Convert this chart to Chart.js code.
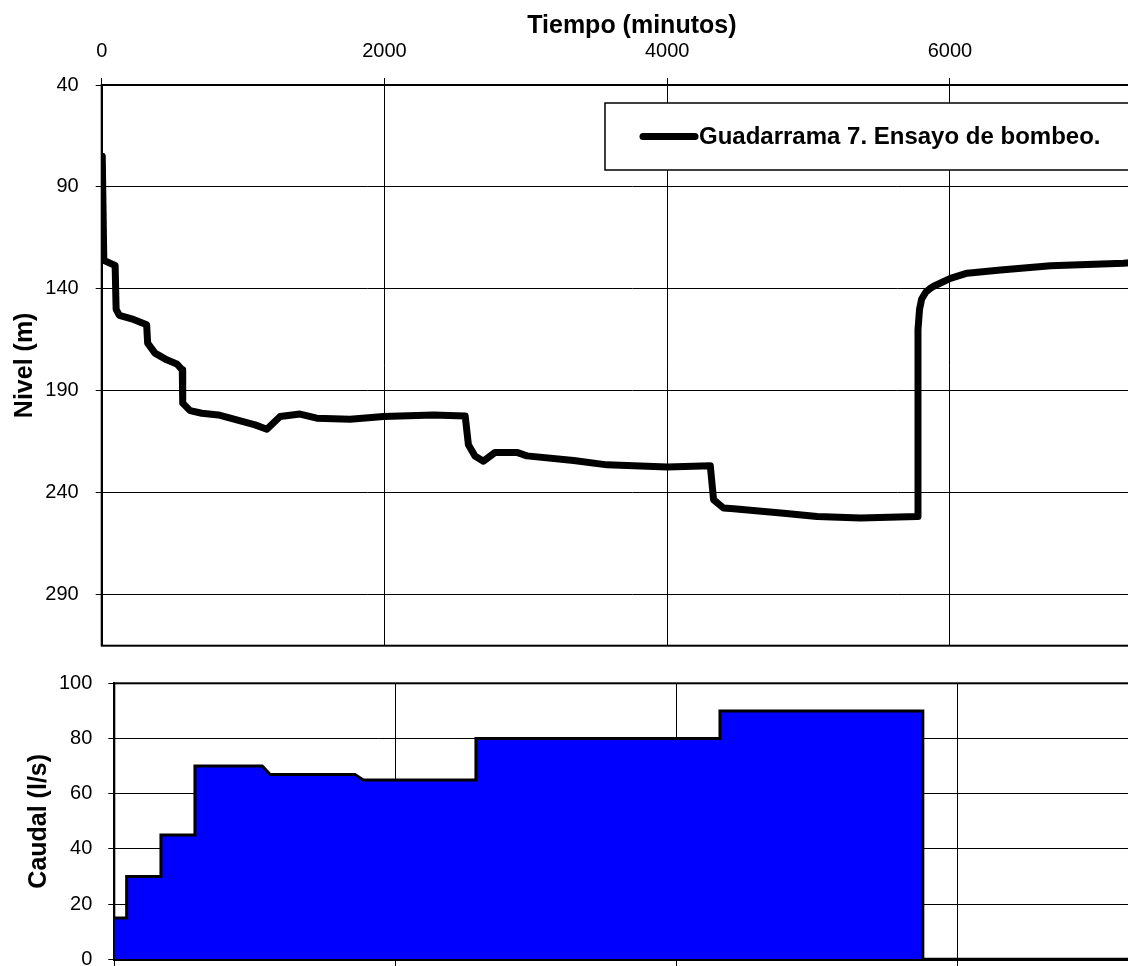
<!DOCTYPE html>
<html lang="es">
<head>
<meta charset="utf-8">
<title>Guadarrama 7. Ensayo de bombeo</title>
<script src="https://cdn.jsdelivr.net/npm/chart.js@4.4.1/dist/chart.umd.min.js"></script>
<style>
    html, body { margin: 0; padding: 0; background: #fff; overflow: hidden; width: 1128px; height: 966px; }
    #nivelWrap { position: absolute; left: 0; top: 0; width: 1200px; height: 660px; }
    #caudalWrap { position: absolute; left: 0; top: 660px; width: 1200px; height: 306px; }
</style>
</head>
<body>
<div id="nivelWrap"><canvas id="nivelChart" width="1200" height="660"></canvas></div>
<div id="caudalWrap"><canvas id="caudalChart" width="1200" height="306"></canvas></div>
<script>
// Nivel (m) vs tiempo (minutos)
const nivelTiempo = [4, 15, 95, 102, 125, 212, 318, 325, 377, 460,
    531, 570, 573, 625, 708, 825, 1085, 1168, 1262, 1403,
    1521, 1757, 1993, 2347, 2571, 2594, 2640, 2700, 2783, 2937,
    3008, 3338, 3574, 4000, 4305, 4328, 4399, 4470, 4824, 5060,
    5367, 5768, 5774, 5785, 5800, 5830, 5862, 5885, 6003, 6122,
    6358, 6712, 7228, 7270];
const nivelValores = [75, 126, 128.5, 150, 153, 154.7, 157.6, 166.6, 171.5, 174.8,
    176.8, 179.7, 196, 199.7, 201, 201.8, 206.7, 208.8, 202.6, 201.4,
    203.4, 203.9, 202.6, 201.8, 202.3, 216.5, 222, 224.5, 220.2, 220.2,
    221.9, 224.2, 226.3, 227.4, 226.8, 243.4, 247.5, 247.8, 250, 251.6,
    252.4, 251.6, 160, 150, 145, 141.5, 139.7, 138.7, 134.8, 132.3,
    130.7, 128.7, 127.4, 127.2];

// Caudal (l/s) vs tiempo (minutos)
const caudalTiempo = [0, 88, 88, 332, 332, 574, 574, 1053, 1108, 1713, 1772, 2574, 2574, 4311, 4311, 5755, 5755, 7500];
const caudalValores = [15, 15, 30, 30, 45, 45, 70, 70, 67, 67, 65, 65, 80, 80, 90, 90, 0, 0];

// Tick labels
const tiempoTicks = [0, 2000, 4000, 6000];
const nivelTicks = [40, 90, 140, 190, 240, 290];
const caudalTicks = [0, 20, 40, 60, 80, 100];

Chart.defaults.font.family = "'Liberation Sans', Arial, sans-serif";
Chart.defaults.color = '#000';

const plainLabel = v => String(v);

// fixed box sizes so the plot area sits where the original has it
function fixWidth(w) {
    return s => { s.width = w; s.paddingTop = 0; s.paddingBottom = 0; };
}
function fixHeight(h) {
    return s => { s.height = h; s.paddingLeft = 0; s.paddingRight = 0; };
}

// border round the plot area
const plotBorder = {
    id: 'plotBorder',
    beforeDatasetsDraw(chart) {
        const a = chart.chartArea;
        const ctx = chart.ctx;
        ctx.save();
        ctx.strokeStyle = '#000';
        ctx.lineWidth = 2;
        ctx.strokeRect(a.left, a.top, a.right - a.left, a.bottom - a.top);
        ctx.restore();
    }
};

// boxed legend like the original
const boxLegend = {
    id: 'boxLegend',
    afterDraw(chart) {
        const ctx = chart.ctx;
        const ds = chart.data.datasets[0];
        ctx.save();
        ctx.fillStyle = '#fff';
        ctx.fillRect(605, 103, 560, 67);
        ctx.strokeStyle = '#000';
        ctx.lineWidth = 1.5;
        ctx.strokeRect(605, 103, 560, 67);
        ctx.beginPath();
        ctx.lineCap = 'round';
        ctx.lineWidth = 7;
        ctx.moveTo(643, 136.5);
        ctx.lineTo(695, 136.5);
        ctx.stroke();
        ctx.fillStyle = '#000';
        ctx.font = "bold 24px 'Liberation Sans', Arial, sans-serif";
        ctx.textBaseline = 'middle';
        ctx.textAlign = 'left';
        ctx.fillText(ds.label, 699, 137);
        ctx.restore();
    }
};

const nivelCtx = document.getElementById('nivelChart').getContext('2d');
const nivelChart = new Chart(nivelCtx, {
    type: 'line',
    data: {
        datasets: [{
            label: 'Guadarrama 7. Ensayo de bombeo.',
            data: nivelTiempo.map((t, i) => ({ x: t, y: nivelValores[i] })),
            borderColor: '#000',
            borderWidth: 7,
            borderCapStyle: 'round',
            borderJoinStyle: 'round',
            pointRadius: 0,
            tension: 0,
            fill: false
        }]
    },
    options: {
        responsive: false,
        animation: false,
        layout: { padding: { left: 0, top: 0, right: 38, bottom: 14.3 } },
        plugins: {
            legend: { display: false },
            tooltip: { enabled: false }
        },
        scales: {
            x: {
                type: 'linear',
                position: 'top',
                min: 0,
                max: 7500,
                afterBuildTicks: s => { s.ticks = tiempoTicks.map(v => ({ value: v })); },
                afterFit: fixHeight(85),
                ticks: { font: { size: 20 }, padding: 15, maxRotation: 0, callback: plainLabel },
                grid: { color: '#000', lineWidth: 1, tickLength: 7 },
                border: { display: true, color: '#000', width: 2 },
                title: {
                    display: true,
                    text: 'Tiempo (minutos)',
                    font: { size: 25, weight: 'bold' },
                    padding: { top: 11, bottom: 0 }
                }
            },
            y: {
                type: 'linear',
                reverse: true,
                min: 40,
                max: 315,
                afterBuildTicks: s => { s.ticks = nivelTicks.map(v => ({ value: v })); },
                afterFit: fixWidth(101.7),
                ticks: { font: { size: 20 }, padding: 17, callback: plainLabel },
                grid: { color: '#000', lineWidth: 1, tickLength: 6 },
                border: { display: true, color: '#000', width: 2 },
                title: {
                    display: true,
                    text: 'Nivel (m)',
                    font: { size: 25, weight: 'bold' },
                    padding: { top: 10, bottom: 0 }
                }
            }
        }
    },
    plugins: [plotBorder, boxLegend]
});

const caudalCtx = document.getElementById('caudalChart').getContext('2d');
const caudalChart = new Chart(caudalCtx, {
    type: 'line',
    data: {
        datasets: [{
            label: 'Caudal',
            data: caudalTiempo.map((t, i) => ({ x: t, y: caudalValores[i] })),
            borderColor: '#000',
            backgroundColor: '#0000ff',
            borderWidth: 3,
            pointRadius: 0,
            tension: 0,
            fill: 'origin'
        }]
    },
    options: {
        responsive: false,
        animation: false,
        layout: { padding: { left: 0, top: 23.3, right: 32, bottom: 0 } },
        plugins: {
            legend: { display: false },
            tooltip: { enabled: false }
        },
        scales: {
            x: {
                type: 'linear',
                min: 0,
                max: 7500,
                afterBuildTicks: s => { s.ticks = tiempoTicks.map(v => ({ value: v })); },
                afterFit: fixHeight(6.7),
                ticks: { display: false },
                grid: { color: '#000', lineWidth: 1, tickLength: 7 },
                border: { display: true, color: '#000', width: 3 }
            },
            y: {
                type: 'linear',
                min: 0,
                max: 100,
                afterBuildTicks: s => { s.ticks = caudalTicks.map(v => ({ value: v })); },
                afterFit: fixWidth(114.3),
                ticks: { font: { size: 20 }, padding: 16, callback: plainLabel },
                grid: { color: '#000', lineWidth: 1, tickLength: 6 },
                border: { display: true, color: '#000', width: 2 },
                title: {
                    display: true,
                    text: 'Caudal (l/s)',
                    font: { size: 25, weight: 'bold' },
                    padding: { top: 24, bottom: 0 }
                }
            }
        }
    },
    plugins: [plotBorder]
});
</script>
</body>
</html>
